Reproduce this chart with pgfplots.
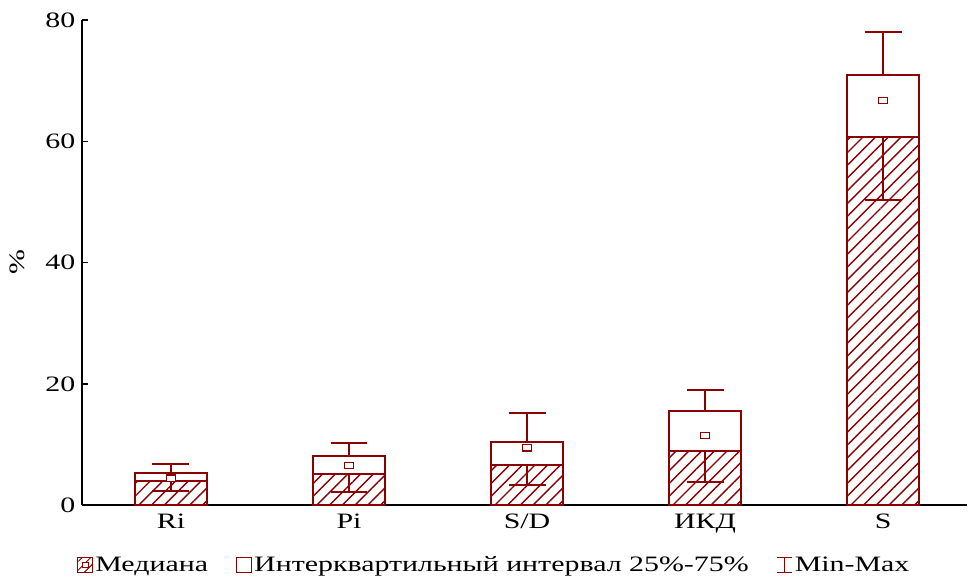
\documentclass[border=0pt]{standalone}
\usepackage{fontspec}
\setmainfont{Liberation Serif}[FakeStretch=1.36]
\usepackage{pgfplots}
\usepackage{pgfplotstable}
\pgfplotsset{compat=1.18}
\usetikzlibrary{patterns.meta}
\definecolor{dred}{RGB}{139,0,0}

\pgfplotstableread{
x q1 q3 mx mn mk eu ed
0 4.0 5.27 6.8 2.35 4.5 1.53 1.65
1 5.2 8.2 10.3 2.2 6.6 2.1 3.0
2 6.6 10.5 15.2 3.3 9.5 4.7 3.3
3 8.95 15.5 19.1 3.9 11.5 3.6 5.05
4 60.7 70.9 78.0 50.4 66.7 7.1 10.3
}\data

\begin{document}
\begin{tikzpicture}[font=\fontsize{22pt}{26pt}\selectfont]
\begin{axis}[
  at={(0,0)}, anchor=south west,
  scale only axis, width=886pt, height=486pt,
  xmin=-0.5, xmax=4.471, ymin=0, ymax=80,
  clip=false,
  axis lines*=left,
  axis line style={line width=2pt, black},
  xtick={0,1,2,3,4},
  xticklabels={Ri,Pi,S/D,ИКД,S},
  ytick={0,20,40,60,80},
  /pgf/number format/assume math mode=true,
  xticklabel style={yshift=-5pt},
  yticklabel style={xshift=-3pt},
  tick align=inside,
  major tick length=6pt,
  tick style={line width=1.5pt, black},
  ylabel={\%},
  ylabel style={at={(axis description cs:-0.073,0.502)}, anchor=center, rotate=0},
  legend style={at={(axis description cs:0.466,-0.123)}, anchor=center,
    draw=none, fill=none, legend columns=3,
    /tikz/every even column/.append style={column sep=26pt},
    font=\fontsize{22pt}{26pt}\selectfont},
  legend cell align=left,
]
\addlegendimage{legend image code/.code={
  \draw[draw=dred, line width=1.2pt, pattern={Lines[angle=45,distance=6pt,line width=1pt]}, pattern color=dred] (0pt,-7.5pt) rectangle (15pt,7.5pt);
  \draw[draw=dred, fill=white, line width=1pt] (4.5pt,-2.5pt) rectangle (10.5pt,2.5pt);}}
\addlegendentry{Медиана}
\addlegendimage{legend image code/.code={
  \draw[draw=dred, fill=white, line width=1.2pt] (0pt,-7.5pt) rectangle (15pt,7.5pt);}}
\addlegendentry{Интерквартильный интервал 25\%-75\%}
\addlegendimage{legend image code/.code={
  \draw[dred, line width=1.2pt] (0pt,7.5pt) -- (15pt,7.5pt) (7.5pt,7.5pt) -- (7.5pt,-7.5pt) (0pt,-7.5pt) -- (15pt,-7.5pt);}}
\addlegendentry{Min-Max}

\addplot[ybar, bar shift=0pt, bar width=0.404, fill=white, draw=dred, line width=2pt, forget plot]
  table[x=x, y=q3]{\data};
\addplot[ybar, bar shift=0pt, bar width=0.404, draw=dred, line width=2pt,
  pattern={Lines[angle=45,distance=9pt,line width=1.4pt]}, pattern color=dred, forget plot]
  table[x=x, y=q1]{\data};
\addplot[draw=none, mark=none, forget plot,
  error bars/.cd, y dir=plus, y explicit, error mark=-,
  error mark options={dred, line width=2pt, mark size=18.5pt, rotate=90},
  error bar style={line width=2pt, dred}]
  table[x=x, y=q3, y error=eu]{\data};
\addplot[draw=none, mark=none, forget plot,
  error bars/.cd, y dir=minus, y explicit, error mark=-,
  error mark options={dred, line width=2pt, mark size=18.5pt, rotate=90},
  error bar style={line width=2pt, dred}]
  table[x=x, y=q1, y error=ed]{\data};
\addplot[only marks, mark=square*, mark size=3.2pt, forget plot,
  mark options={fill=white, draw=dred, line width=1.1pt, xscale=1.4}]
  table[x=x, y=mk]{\data};
\end{axis}
\path (-82pt,-75pt) rectangle (886pt,506pt);
\end{tikzpicture}
\end{document}
